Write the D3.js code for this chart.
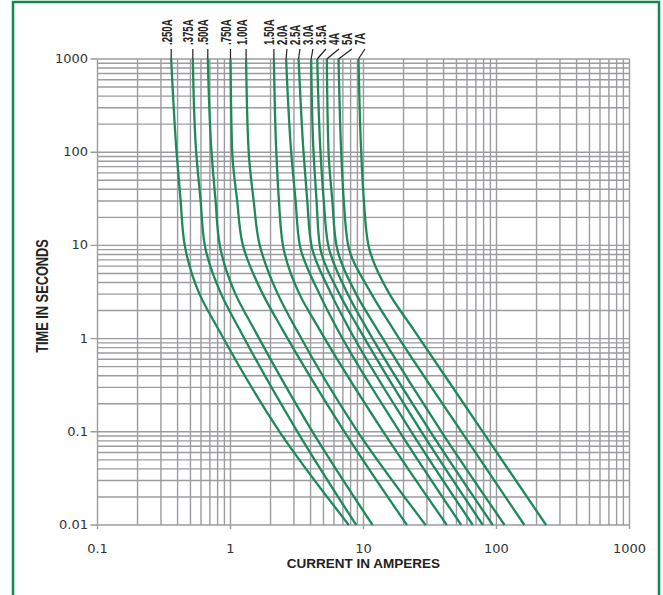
<!DOCTYPE html>
<html>
  <head>
    <meta charset="utf-8" />
    <title>Time-Current Curves</title>
    <script src="https://d3js.org/d3.v7.min.js"></script>
    <style>
      body { margin: 0; background: #fff; }
    </style>
  </head>
  <body>
    <svg id="viz"></svg>
    <script>

      // fuse ratings, and current (A) at the given times (s)
      var ratings = [".250A", ".375A", ".500A", ".750A", "1.00A", "1.50A", "2.0A", "2.5A", "3.0A", "3.5A", "4A", "5A", "7A"];
      var times = [1000, 100, 31, 10, 3, 1.25, 0.1, 0.01];
      var currents = [
        [0.358, 0.393, 0.421, 0.453, 0.585, 0.813, 2.34, 7.75],
        [0.521, 0.552, 0.595, 0.641, 0.851, 1.17, 3.19, 8.81],
        [0.675, 0.72, 0.771, 0.831, 1.09, 1.51, 4.14, 11.7],
        [1.0, 1.03, 1.12, 1.24, 1.75, 2.46, 7.20, 21.2],
        [1.31, 1.37, 1.49, 1.66, 2.27, 3.13, 9.06, 29.3],
        [2.12, 2.21, 2.31, 2.48, 3.30, 4.67, 14.1, 42.3],
        [2.62, 2.86, 3.08, 3.32, 4.67, 6.38, 18.7, 54.3],
        [3.25, 3.54, 3.77, 4.06, 5.72, 7.85, 22.9, 66.3],
        [4.04, 4.21, 4.43, 4.69, 6.60, 9.33, 27.3, 78.9],
        [4.49, 4.75, 5.02, 5.43, 7.62, 10.7, 31.9, 93.8],
        [5.30, 5.46, 5.82, 6.26, 8.81, 12.7, 38.6, 115],
        [6.49, 6.80, 7.10, 7.67, 11.5, 16.8, 54.6, 162],
        [9.17, 9.61, 10.05, 10.9, 15.7, 23.8, 78.9, 236]
      ];
      var xTicks = [0.1, 1, 10, 100, 1000];
      var xTickLabels = ["0.1", "1", "10", "100", "1000"];
      var yTicks = [0.01, 0.1, 1, 10, 100, 1000];
      var yTickLabels = ["0.01", "0.1", "1", "10", "100", "1000"];

      var width = 663, height = 595;
      var svg = d3.select("#viz").attr("width", width).attr("height", height);

      var x = d3.scaleLog().domain([0.1, 1000]).range([97.5, 629.5]);
      var y = d3.scaleLog().domain([0.01, 1000]).range([525, 59]);

      // outer green frame
      svg.append("rect")
        .attr("x", 13).attr("y", 2)
        .attr("width", 646).attr("height", 620)
        .attr("fill", "none")
        .attr("stroke", "#12894f")
        .attr("stroke-width", 2.5);

      function minors(lo, hi) {
        var out = [];
        for (var d = lo; d < hi * 0.999; d *= 10) {
          for (var k = 1; k <= 9; k++) out.push(d * k);
        }
        out.push(hi);
        return out;
      }
      function isMajor(list, d) {
        return list.some(function(t) { return Math.abs(t - d) / t < 1e-6; });
      }

      var grid = svg.append("g").attr("stroke", "#9b9ba0").attr("stroke-width", 1.4);

      grid.selectAll(".vx").data(minors(0.1, 1000)).enter().append("line")
        .attr("x1", function(d) { return x(d); })
        .attr("x2", function(d) { return x(d); })
        .attr("y1", y(1000))
        .attr("y2", function(d) { return isMajor(xTicks, d) ? y(0.01) + 4 : y(0.01); });

      grid.selectAll(".hy").data(minors(0.01, 1000)).enter().append("line")
        .attr("x1", function(d) { return isMajor(yTicks, d) ? x(0.1) - 7 : x(0.1); })
        .attr("x2", x(1000))
        .attr("y1", function(d) { return y(d); })
        .attr("y2", function(d) { return y(d); });

      // tick labels
      svg.selectAll(".xl").data(xTicks).enter().append("text")
        .attr("x", function(d) { return x(d); })
        .attr("y", 553)
        .attr("text-anchor", "middle")
        .attr("font-family", "DejaVu Sans")
        .attr("font-size", 13)
        .attr("fill", "#333")
        .text(function(d, i) { return xTickLabels[i]; });

      svg.selectAll(".yl").data(yTicks).enter().append("text")
        .attr("x", 88)
        .attr("y", function(d) { return y(d) + 4; })
        .attr("text-anchor", "end")
        .attr("font-family", "DejaVu Sans")
        .attr("font-size", 13)
        .attr("fill", "#333")
        .text(function(d, i) { return yTickLabels[i]; });

      svg.append("text")
        .attr("x", x(10))
        .attr("y", 568)
        .attr("text-anchor", "middle")
        .attr("font-family", "Liberation Sans")
        .attr("font-weight", "bold")
        .attr("font-size", 13.5)
        .attr("fill", "#222")
        .text("CURRENT IN AMPERES");

      // condensed bold look: squeeze along the text direction
      svg.append("text")
        .attr("transform", "translate(48,296) rotate(-90) scale(0.8,1)")
        .attr("text-anchor", "middle")
        .attr("font-family", "Liberation Sans")
        .attr("font-weight", "bold")
        .attr("font-size", 16)
        .attr("fill", "#222")
        .text("TIME IN SECONDS");

      // curves
      var line = d3.line()
        .x(function(d) { return x(d[0]); })
        .y(function(d) { return y(d[1]); })
        .curve(d3.curveMonotoneY);

      var series = currents.map(function(c) {
        return c.map(function(v, i) { return [v, times[i]]; });
      });

      svg.append("g").selectAll("path").data(series).enter().append("path")
        .attr("d", line)
        .attr("fill", "none")
        .attr("stroke", "#20895b")
        .attr("stroke-width", 2.3);

      // rating labels above the plot, pushed right when crowded
      var labelX = [];
      currents.forEach(function(c, i) {
        var cx = x(c[0]);
        labelX.push(i === 0 ? cx : Math.max(cx, labelX[i - 1] + 13));
      });

      var lab = svg.append("g");
      ratings.forEach(function(r, i) {
        var cx = x(currents[i][0]);
        lab.append("line")
          .attr("x1", labelX[i]).attr("y1", 49)
          .attr("x2", cx).attr("y2", 59)
          .attr("stroke", "#222")
          .attr("stroke-width", 1.2);
        lab.append("text")
          .attr("transform", "translate(" + (labelX[i] + 0.5) + ",45) rotate(-90) scale(0.64,1)")
          .attr("font-family", "Liberation Sans")
          .attr("font-weight", "bold")
          .attr("font-size", 15)
          .attr("fill", "#222")
          .text(r);
      });

    </script>
  </body>
</html>
